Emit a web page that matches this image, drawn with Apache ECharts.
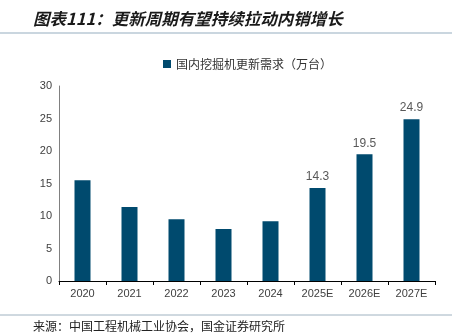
<!DOCTYPE html>
<html><head><meta charset="utf-8">
<script src="https://cdn.jsdelivr.net/npm/echarts@6/dist/echarts.min.js"></script>
<style>html,body{margin:0;padding:0;background:#fff}#c{width:457px;height:335px}</style>
</head><body><div id="c"></div>
<script>
const categories = ['2020','2021','2022','2023','2024','2025E','2026E','2027E'];
const demand = [15.5, 11.4, 9.5, 8.0, 9.2, 14.3, 19.5, 24.9];
const labeledIdx = [5, 6, 7];
const seriesName = '国内挖掘机更新需求（万台）';
const titleText = '图表111：更新周期有望持续拉动内销增长';
const sourceText = '来源：中国工程机械工业协会，国金证券研究所';

const chart = echarts.init(document.getElementById('c'), null, {renderer:'canvas'});
chart.setOption({
  animation:false,
  backgroundColor:'#fff',
  title:{text:titleText,left:33,top:10,padding:0,textStyle:{fontSize:16.5,fontStyle:'italic',fontWeight:'bold',color:'#1a1a1a',fontFamily:'Noto Sans CJK SC'}},
  graphic:[
    {type:'line',shape:{x1:0,y1:33,x2:452,y2:33},style:{stroke:'#b8c8d4',lineWidth:1.5}},
    {type:'line',shape:{x1:0,y1:315,x2:452,y2:315},style:{stroke:'#9fb2c0',lineWidth:1}},
    {type:'text',left:33,top:320,style:{text:sourceText,fill:'#222',font:'12px "Noto Sans CJK SC"'}}
  ],
  legend:{top:53,left:158,itemWidth:8,itemHeight:8,itemGap:4,icon:'rect',
    textStyle:{fontSize:12,color:'#333',fontFamily:'Noto Sans CJK SC'},data:[seriesName]},
  grid:{left:59,right:22,top:86,bottom:54},
  xAxis:{type:'category',data:categories,
    axisLine:{lineStyle:{color:'#000',width:1}},
    axisTick:{show:true,alignWithLabel:false,lineStyle:{color:'#000'},length:4},
    axisLabel:{color:'#404040',fontSize:11,fontFamily:'Liberation Sans',margin:7}},
  yAxis:{type:'value',min:0,max:30,interval:5,
    axisLine:{show:true,lineStyle:{color:'#808080'}},
    axisTick:{show:false},splitLine:{show:false},
    axisLabel:{color:'#404040',fontSize:11,fontFamily:'Liberation Sans',margin:7}},
  series:[{name:seriesName,type:'bar',barWidth:16,
    itemStyle:{color:'#004a6e'},
    data:demand.map((v,i)=>labeledIdx.includes(i)?{value:v,label:{show:true,position:'top',distance:5,color:'#595959',fontSize:12,fontFamily:'Liberation Sans'}}:v)
  }]
});
</script></body></html>
